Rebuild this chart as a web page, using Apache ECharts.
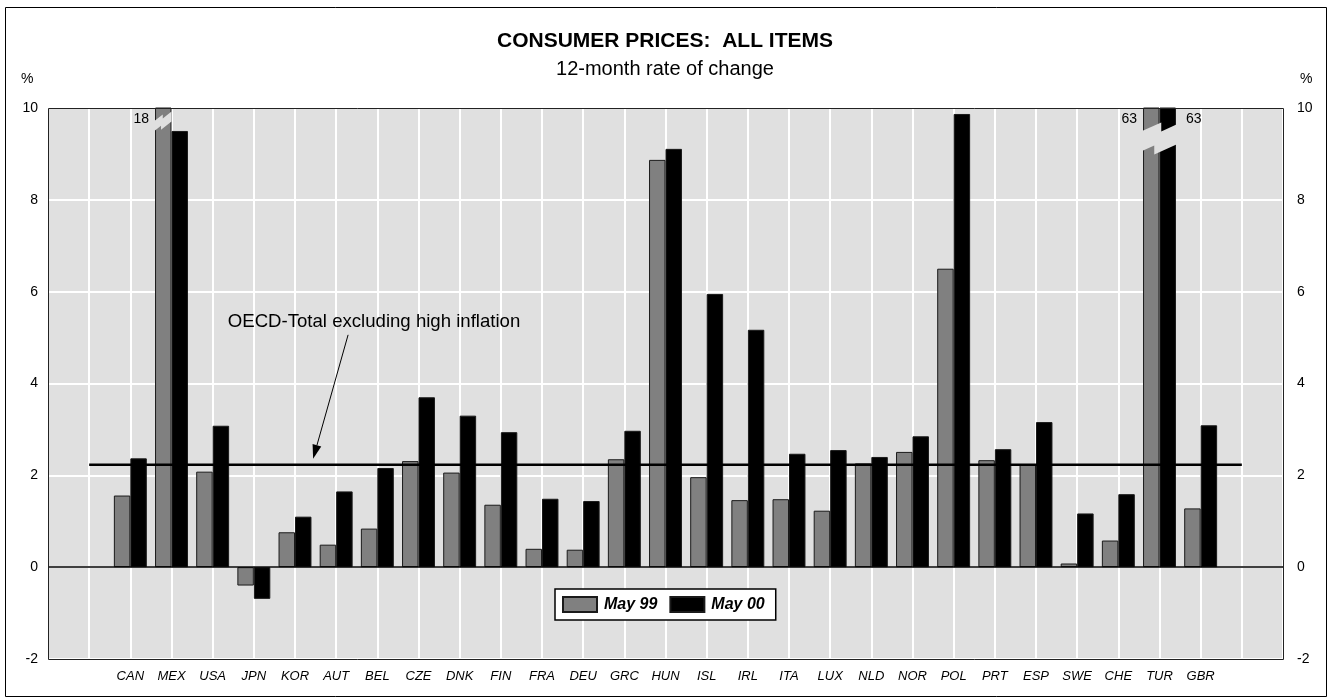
<!DOCTYPE html>
<html><head><meta charset="utf-8">
<script src="https://cdn.jsdelivr.net/npm/echarts@6/dist/echarts.min.js"></script>
<style>html,body{margin:0;padding:0;background:#fff}#c{width:1330px;height:699px}</style>
</head><body><div id="c"></div>
<script>
// ---------- data ----------
const countries = ['CAN','MEX','USA','JPN','KOR','AUT','BEL','CZE','DNK','FIN','FRA','DEU','GRC','HUN','ISL','IRL','ITA','LUX','NLD','NOR','POL','PRT','ESP','SWE','CHE','TUR','GBR'];
const may99 = [1.56,18,2.08,-0.40,0.76,0.49,0.84,2.31,2.06,1.36,0.40,0.38,2.35,8.87,1.96,1.46,1.48,1.23,2.26,2.51,6.50,2.33,2.24,0.08,0.58,63,1.28];
const may00 = [2.37,9.50,3.08,-0.69,1.10,1.65,2.16,3.70,3.30,2.94,1.49,1.44,2.97,9.11,5.95,5.17,2.47,2.55,2.40,2.85,9.87,2.57,3.16,1.17,1.59,63,3.09];
const oecdTotal = 2.23;
const seriesNames = ['May 99', 'May 00'];
const yTicks = [-2, 0, 2, 4, 6, 8, 10];
const noteText = 'OECD-Total excluding high inflation';

// ---------- layout ----------
const FONT = '"Liberation Sans", Arial, Helvetica, sans-serif';
const yMin = yTicks[0], yMax = yTicks[yTicks.length - 1], yStep = yTicks[1] - yTicks[0];
const padL = 2, padR = 2;
const axisCats = [...Array(padL).fill(''), ...countries, ...Array(padR).fill('')];
const nSlots = axisCats.length - 1;
const pad = arr => [...Array(padL).fill('-'), ...arr, ...Array(padR).fill('-')];
const catGap = 0.2;
const barFrac = (1 - catGap) / 2;
const notePos = [7.92, 5.34];
const arrowFrom = [7.29, 5.06], arrowTo = [6.44, 2.36];
const labelAt = 9.75;
const breakSingle = {at: 9.6, t: 10, k: 0.8, s: 4, ft: 0.5, fb: 0.4};
const breakDouble = {at: 9.28, t: 20, k: 0.45, s: 9, ft: 0.55, fb: 0.35};

// annotation items
const items = [{kind: 'frame'}, {kind: 'note'}];
countries.forEach((c, i) => {
  const o1 = may99[i] > yMax, o2 = may00[i] > yMax;
  const idx = i + padL;
  if (o1 && o2) items.push({kind: 'break', idx, span: 'both', p: breakDouble, l1: may99[i], l2: may00[i]});
  else if (o1) items.push({kind: 'break', idx, span: 'left', p: breakSingle, l1: may99[i]});
  else if (o2) items.push({kind: 'break', idx, span: 'right', p: breakSingle, l2: may00[i]});
});

function breakPoly(x0, x1, cy, p) {
  const w = x1 - x0, yT = cy - p.t / 2;
  const xt = x0 + p.ft * w, xb = x0 + p.fb * w;
  return [
    [x0, yT], [xt, yT - p.k * (xt - x0)], [xt, yT - p.k * (xt - x0) + p.s], [x1, yT - p.k * w + p.s],
    [x1, yT + p.t - p.k * w + p.s], [xb, yT + p.t - p.k * (xb - x0) + p.s], [xb, yT + p.t - p.k * (xb - x0)], [x0, yT + p.t]
  ];
}

function renderItem(params, api) {
  const d = items[params.dataIndex];
  if (d.kind === 'frame') {
    const a = api.coord([0, yMax]), b = api.coord([nSlots, yMin]);
    return {type: 'rect', shape: {x: Math.round(a[0]) + 0.5, y: Math.round(a[1]) + 0.5, width: Math.round(b[0] - a[0]), height: Math.round(b[1] - a[1])},
      style: {fill: null, stroke: '#222', lineWidth: 1}};
  }
  if (d.kind === 'note') {
    const p = api.coord(notePos), f = api.coord(arrowFrom), t = api.coord(arrowTo);
    const dx = t[0] - f[0], dy = t[1] - f[1], L = Math.hypot(dx, dy), ux = dx / L, uy = dy / L;
    const hl = 14, hw = 4.5;
    const bx = t[0] - ux * hl, by = t[1] - uy * hl;
    return {type: 'group', children: [
      {type: 'text', x: p[0], y: p[1], style: {text: noteText, fill: '#000', font: '18.6px ' + FONT, align: 'center', verticalAlign: 'middle'}},
      {type: 'line', shape: {x1: f[0], y1: f[1], x2: bx, y2: by}, style: {stroke: '#000', lineWidth: 1}},
      {type: 'polygon', shape: {points: [[t[0], t[1]], [bx - uy * hw, by + ux * hw], [bx + uy * hw, by - ux * hw]]}, style: {fill: '#000'}}
    ]};
  }
  // break marks
  const cx = api.coord([d.idx, 0])[0];
  const bw = api.size([1, 0])[0] * barFrac;
  const x0 = d.span === 'right' ? cx : cx - bw - 1;
  const x1 = d.span === 'left' ? cx : cx + bw + 1;
  const cy = api.coord([0, d.p.at])[1];
  const ly = api.coord([0, labelAt])[1];
  const ch = [{type: 'polygon', shape: {points: breakPoly(x0, x1, cy, d.p)}, style: {fill: '#e0e0e0'}}];
  if (d.l1 != null) ch.push({type: 'text', x: cx - bw - 6, y: ly, style: {text: String(d.l1), fill: '#000', font: '14px ' + FONT, align: 'right', verticalAlign: 'middle'}});
  if (d.l2 != null) ch.push({type: 'text', x: cx + bw + 10, y: ly, style: {text: String(d.l2), fill: '#000', font: '14px ' + FONT, align: 'left', verticalAlign: 'middle'}});
  return {type: 'group', children: ch};
}

const chart = echarts.init(document.getElementById('c'), null, {renderer: 'canvas'});
const barStyle = (c) => ({color: c, borderColor: '#1a1a1a', borderWidth: 1});
chart.setOption({
  animation: false,
  backgroundColor: '#fff',
  textStyle: {fontFamily: FONT},
  title: {
    text: 'CONSUMER PRICES:  ALL ITEMS', subtext: '12-month rate of change',
    left: 'center', top: 26, itemGap: 7,
    textStyle: {fontSize: 21, fontWeight: 'bold', color: '#000', fontFamily: FONT},
    subtextStyle: {fontSize: 20, color: '#000', fontFamily: FONT}
  },
  legend: {
    data: seriesNames, left: 555, top: 589, orient: 'horizontal',
    padding: [7, 11, 7, 7], itemGap: 12, itemWidth: 34, itemHeight: 15,
    borderColor: '#000', borderWidth: 1.5, backgroundColor: '#fff',
    textStyle: {fontSize: 16, fontWeight: 'bold', fontStyle: 'italic', color: '#000', fontFamily: FONT, padding: [0, 0, 0, 2]},
    icon: 'rect'
  },
  grid: {left: 48, right: 47, top: 108, bottom: 40, show: true, backgroundColor: '#e0e0e0', borderWidth: 0},
  xAxis: [{
    type: 'category', data: axisCats, boundaryGap: false,
    axisLine: {show: false}, axisTick: {show: false},
    axisLabel: {interval: 0, fontSize: 13, fontStyle: 'italic', color: '#000', margin: 11, fontFamily: FONT},
    splitLine: {show: true, lineStyle: {color: '#fff', width: 2}}
  }, {
    type: 'value', min: 0, max: nSlots, show: false, position: 'top'
  }],
  yAxis: [{
    type: 'value', min: yMin, max: yMax, interval: yStep, position: 'left',
    axisLine: {show: false}, axisTick: {show: false},
    axisLabel: {fontSize: 14, color: '#000', margin: 10, fontFamily: FONT},
    splitLine: {show: true, lineStyle: {color: '#fff', width: 2}}
  }, {
    type: 'value', min: yMin, max: yMax, interval: yStep, position: 'right',
    axisLine: {show: false}, axisTick: {show: false},
    axisLabel: {fontSize: 14, color: '#000', margin: 14, fontFamily: FONT},
    splitLine: {show: false}
  }],
  graphic: [
    {type: 'rect', shape: {x: 5.5, y: 7.5, width: 1321, height: 689}, style: {fill: null, stroke: '#000', lineWidth: 1}, z: 100},
    {type: 'text', left: 21, top: 72, style: {text: '%', font: '14px ' + FONT, fill: '#000'}},
    {type: 'text', left: 1300, top: 72, style: {text: '%', font: '14px ' + FONT, fill: '#000'}}
  ],
  series: [
    {name: seriesNames[0], type: 'bar', data: pad(may99), barGap: '0%', barCategoryGap: (catGap * 100) + '%', itemStyle: barStyle('#808080'), clip: true, z: 2},
    {name: seriesNames[1], type: 'bar', data: pad(may00), barGap: '0%', barCategoryGap: (catGap * 100) + '%', itemStyle: barStyle('#000000'), clip: true, z: 2},
    {name: 'OECD', type: 'line', xAxisIndex: 1, yAxisIndex: 0, silent: true, symbol: 'none', z: 4,
      data: [[1, oecdTotal], [nSlots - 1, oecdTotal]], lineStyle: {color: '#000', width: 2.5},
      markLine: {silent: true, symbol: 'none', label: {show: false}, lineStyle: {color: '#000', width: 1.5, type: 'solid'}, data: [{yAxis: 0}]}
    },
    {name: 'notes', type: 'custom', xAxisIndex: 1, yAxisIndex: 0, silent: true, z: 6, clip: false,
      renderItem, data: items.map(() => [0, 0])}
  ]
});
</script></body></html>
